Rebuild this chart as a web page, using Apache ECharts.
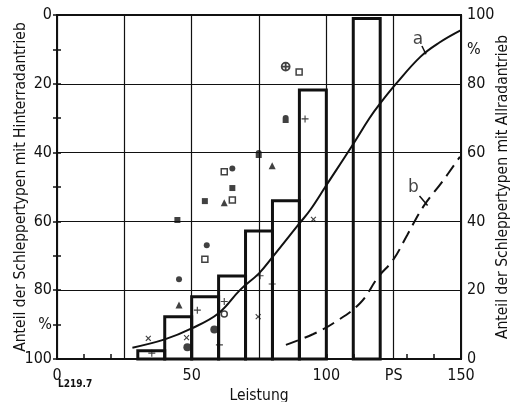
<!DOCTYPE html>
<html>
<head>
<meta charset="utf-8">
<script src="https://cdn.jsdelivr.net/npm/echarts@6/dist/echarts.min.js"></script>
<style>
  html, body { margin: 0; padding: 0; background: #fff; }
  #chart { width: 511px; height: 402px; }
</style>
</head>
<body>
<div id="chart"></div>
<script>
// Leistungsklassen (PS, je 10 PS breit) und Anteil mit Allradantrieb (%)
const classStart = [30, 40, 50, 60, 70, 80, 90, 100, 110];
const classShare = [2.4, 12.3, 18.1, 24.1, 37.2, 46.0, 78.2, 0, 99.0];

// Kurve a (ausgezogen) und Kurve b (gestrichelt): [PS, % Allrad]
const curveA = [[28, 3.3], [40, 5.7], [50, 8.9], [60, 13.3], [68, 20.1], [75, 24.9], [80, 29.6],
  [90, 39.4], [94, 43.3], [100, 50.5], [110, 62.5], [116, 70], [120, 74.3], [126, 80.1],
  [135, 87.9], [142, 92], [150, 95.6]];
const curveB = [[85, 4.1], [95, 7.2], [102.6, 10.4], [112.5, 16.2], [119.3, 23.9], [124.8, 28.8],
  [130, 36], [136, 44.3], [143, 51.5], [149.6, 58.8]];

// Einzelpunkte, nach Zeichen getrennt
const dotPts = [[65.1, 55.4], [55.6, 33.1], [45.3, 23.2]];
const bigDotPts = [[48.4, 3.4], [58.4, 8.6]];
const squarePts = [[65.1, 49.7], [54.9, 45.9], [44.7, 40.4]];
const openSquarePts = [[62.1, 54.4], [65.1, 46.2], [54.9, 29.0], [89.9, 83.4]];
const trianglePts = [[62.1, 45.4], [45.3, 15.7], [79.9, 56.2]];
const plusPts = [[52.1, 14.2], [62.1, 16.7], [92.1, 69.8], [75.4, 24.2], [79.9, 21.8], [35.2, 1.7], [60.3, 4.1]];
const crossPts = [[33.9, 6.0], [48.1, 6.2], [74.7, 12.3], [95.2, 40.6]];
const openCirclePts = [[62.1, 13.1]];
const circlePlusPts = [[84.9, 85.0]];
const lockPts = [[74.9, 59.6], [84.9, 69.8]];

// Kurvenbeschriftung: Textpunkt und Hinweisstrich
const labelA = [134, 93.0];
const leaderA = [[135.5, 91.0], [137.0, 88.6]];
const labelB = [132.3, 49.8];
const leaderB = [[134.6, 47.4], [137.6, 44.6]];

const xTickLabels = { 0: '0', 50: '50', 100: '100', 125: 'PS', 150: '150' };

const INK = '#111';
const numFont = "'DejaVu Sans Condensed', 'DejaVu Sans', sans-serif";

const PLUS = 'path://M4.2,0H5.8V4.2H10V5.8H5.8V10H4.2V5.8H0V4.2H4.2Z';
const LOCK = 'path://M0,4A4,4 0 0 1 8,4V10H0Z';
const CPLUS = 'path://M0,5A5,5 0 1 1 10,5A5,5 0 1 1 0,5ZM5,0V10M0,5H10';

function pctLabel(v) {
  if (v % 20 === 0) return String(v);
  if (v === 90) return '%';
  return '';
}

function scatter(data, symbol, size, style, rotate) {
  return {
    type: 'scatter', xAxisIndex: 0, yAxisIndex: 1, data: data,
    symbol: symbol, symbolSize: size, symbolRotate: rotate || 0,
    itemStyle: Object.assign({ color: INK }, style || {}),
    z: 5, silent: true
  };
}

const chart = echarts.init(document.getElementById('chart'), null, { renderer: 'canvas' });

chart.setOption({
  backgroundColor: '#fff',
  animation: false,
  textStyle: { fontFamily: numFont, color: INK },
  grid: { left: 57, right: 50, top: 15, bottom: 43, show: true, borderColor: INK, borderWidth: 2,
    containLabel: false, outerBoundsMode: 'none' },
  xAxis: [
    {
      type: 'value', position: 'bottom', min: 0, max: 150, interval: 25,
      name: 'Leistung', nameLocation: 'middle', nameGap: 29, nameMoveOverlap: false,
      nameTextStyle: { fontFamily: numFont, fontSize: 15.5, color: INK },
      axisLine: { show: true, lineStyle: { color: INK, width: 2 } },
      axisTick: { show: false },
      axisLabel: { margin: 9, fontFamily: numFont, fontSize: 16, color: INK,
        formatter: v => xTickLabels[v] || '' },
      splitLine: { show: true, lineStyle: { color: INK, width: 1.2 } }
    },
    {
      type: 'value', position: 'bottom', min: 0, max: 150, interval: 10,
      axisLine: { show: false },
      axisTick: { show: true, inside: true, length: 5, lineStyle: { color: INK, width: 1.5 } },
      axisLabel: { show: false },
      splitLine: { show: false }
    }
  ],
  yAxis: [
    {
      type: 'value', position: 'left', inverse: true, min: 0, max: 100, interval: 10,
      name: 'Anteil der Schleppertypen mit Hinterradantrieb', nameLocation: 'middle', nameGap: 28,
      nameRotate: 90, nameMoveOverlap: false,
      nameTextStyle: { fontFamily: numFont, fontSize: 15.5, color: INK },
      axisLine: { show: true, lineStyle: { color: INK, width: 2 } },
      axisTick: { show: true, length: 4, lineStyle: { color: INK, width: 1.5 } },
      axisLabel: { margin: 5, fontFamily: numFont, fontSize: 16, color: INK, formatter: pctLabel },
      splitLine: { show: false }
    },
    {
      type: 'value', position: 'right', min: 0, max: 100, interval: 10,
      name: 'Anteil der Schleppertypen mit Allradantrieb', nameLocation: 'middle', nameGap: 34,
      nameRotate: 90, nameMoveOverlap: false,
      nameTextStyle: { fontFamily: numFont, fontSize: 15.5, color: INK },
      axisLine: { show: true, lineStyle: { color: INK, width: 2 } },
      axisTick: { show: true, length: 4, lineStyle: { color: INK, width: 1.5 } },
      axisLabel: { margin: 6, fontFamily: numFont, fontSize: 16, color: INK, formatter: pctLabel },
      splitLine: { show: false }
    },
    {
      // nur für die waagerechten Gitterlinien
      type: 'value', position: 'left', min: 0, max: 100, interval: 20,
      axisLine: { show: false }, axisTick: { show: false }, axisLabel: { show: false },
      splitLine: { show: true, lineStyle: { color: INK, width: 1.2 } }
    }
  ],
  graphic: [
    { type: 'text', left: 58, top: 379, style: { text: 'L219.7', fontFamily: numFont, fontSize: 10, fontWeight: 'bold', fill: INK } }
  ],
  series: [
    {
      type: 'custom', xAxisIndex: 0, yAxisIndex: 1,
      data: classStart.map((s, i) => [s, s + 10, classShare[i]]),
      renderItem: function (params, api) {
        const h = api.value(2);
        if (!h) return null;
        const p0 = api.coord([api.value(0), h]);
        const p1 = api.coord([api.value(1), 0]);
        return {
          type: 'rect',
          shape: { x: p0[0], y: p0[1], width: p1[0] - p0[0], height: p1[1] - p0[1] },
          style: { fill: 'none', stroke: INK, lineWidth: 3 }
        };
      },
      z: 3, silent: true
    },
    {
      type: 'line', xAxisIndex: 0, yAxisIndex: 1, data: curveA, smooth: 0.4, showSymbol: false,
      lineStyle: { color: INK, width: 2 }, z: 4, silent: true
    },
    {
      type: 'line', xAxisIndex: 0, yAxisIndex: 1, data: curveB, smooth: 0.4, showSymbol: false,
      lineStyle: { color: INK, width: 2, type: [13, 7] }, z: 4, silent: true
    },
    {
      type: 'line', xAxisIndex: 0, yAxisIndex: 1, data: leaderA, showSymbol: false,
      lineStyle: { color: INK, width: 1.5 }, z: 4, silent: true
    },
    {
      type: 'line', xAxisIndex: 0, yAxisIndex: 1, data: leaderB, showSymbol: false,
      lineStyle: { color: INK, width: 1.5 }, z: 4, silent: true
    },
    {
      type: 'scatter', xAxisIndex: 0, yAxisIndex: 1, symbolSize: 0, silent: true,
      data: [{ value: labelA, name: 'a' }, { value: labelB, name: 'b' }],
      label: { show: true, position: 'inside', formatter: '{b}', fontFamily: "'DejaVu Sans', sans-serif", fontSize: 17, color: INK }
    },
    scatter(dotPts, 'circle', 6),
    scatter(bigDotPts, 'circle', 8),
    scatter(squarePts, 'rect', 6),
    scatter(openSquarePts, 'rect', 6, { color: '#fff', borderColor: INK, borderWidth: 1.5 }),
    scatter(trianglePts, 'triangle', 7),
    scatter(plusPts, PLUS, 7),
    scatter(crossPts, PLUS, 7, null, 45),
    scatter(openCirclePts, 'circle', 6, { color: '#fff', borderColor: INK, borderWidth: 1.5 }),
    scatter(circlePlusPts, CPLUS, 8, { color: 'transparent', borderColor: INK, borderWidth: 1.8 }),
    scatter(lockPts, LOCK, [6, 8])
  ]
});
</script>
</body>
</html>
